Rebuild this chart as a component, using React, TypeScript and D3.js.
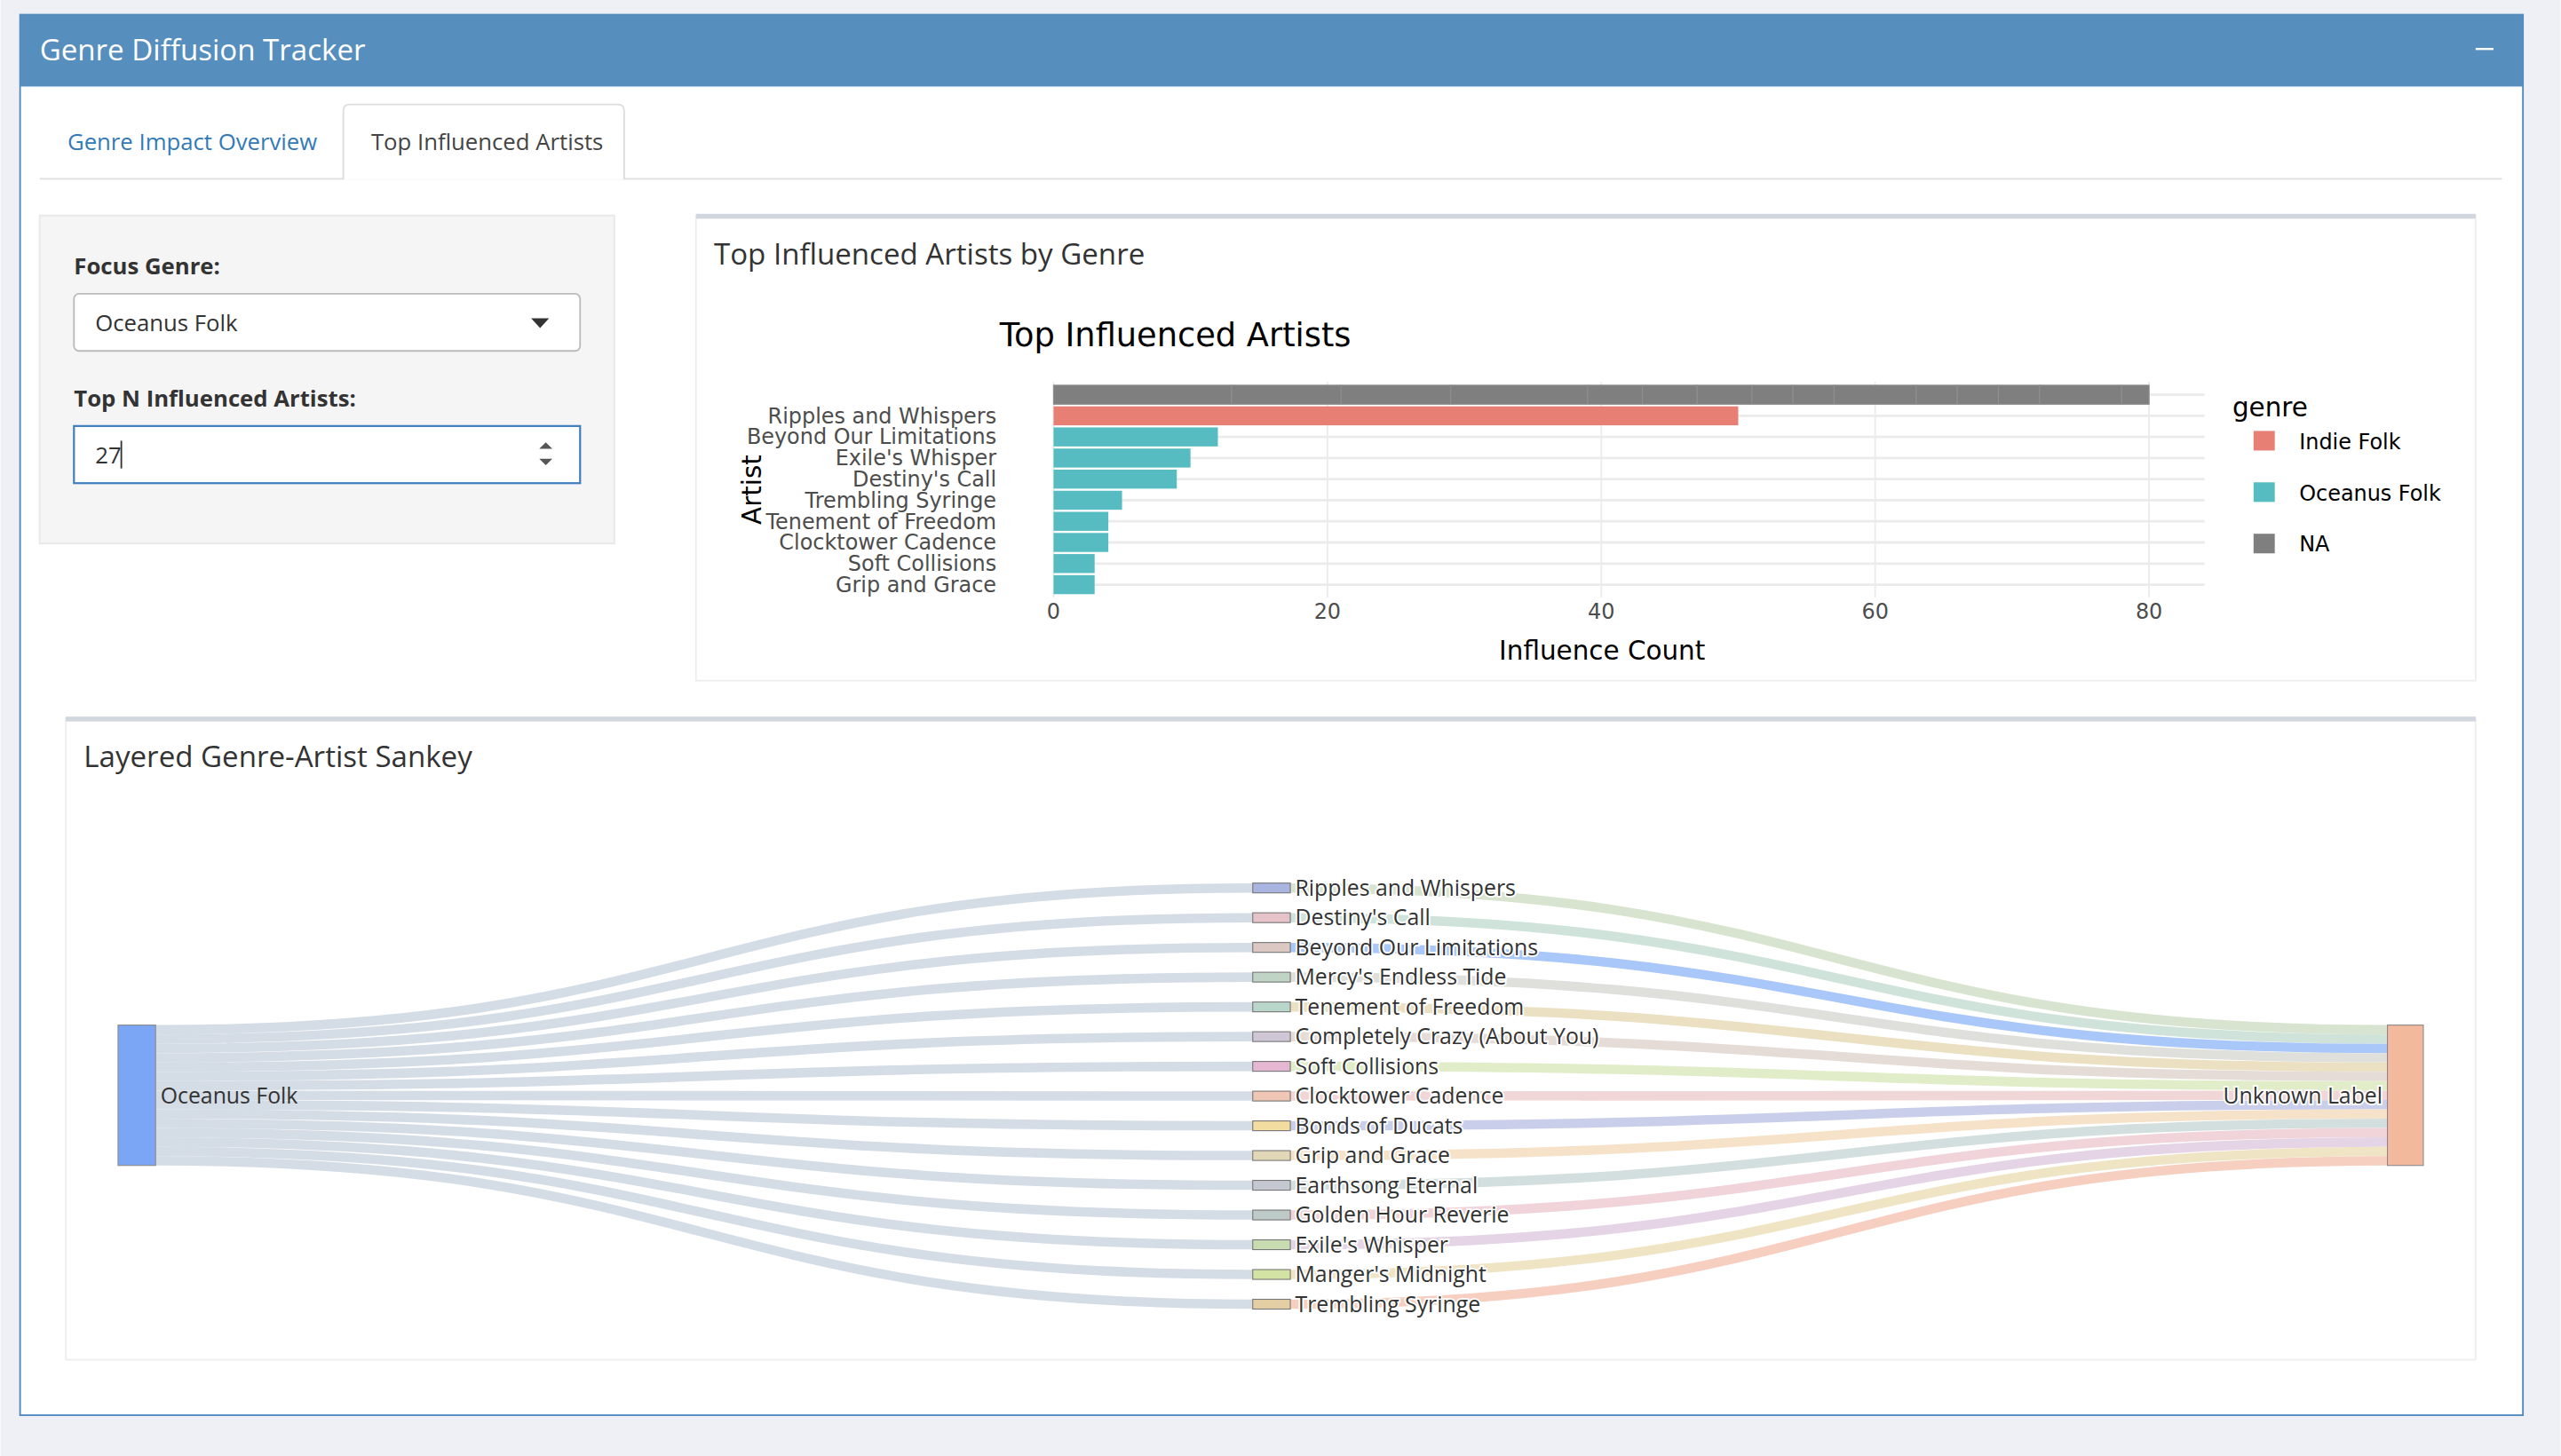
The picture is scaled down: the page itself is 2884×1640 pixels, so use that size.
import React from "react";
import * as d3 from "d3";

// bar chart data
const barArtists = ["NA", "Ripples and Whispers", "Beyond Our Limitations", "Exile's Whisper", "Destiny's Call", "Trembling Syringe", "Tenement of Freedom", "Clocktower Cadence", "Soft Collisions", "Grip and Grace"];
const barGenres = ["NA", "Indie Folk", "Oceanus Folk", "Oceanus Folk", "Oceanus Folk", "Oceanus Folk", "Oceanus Folk", "Oceanus Folk", "Oceanus Folk", "Oceanus Folk"];
const barCounts = [80, 50, 12, 10, 9, 5, 4, 4, 3, 3];
const naSegments = [13, 8, 8, 10, 4, 4, 4, 3, 3, 6, 3, 3, 3, 6, 2];
const xTicks = [0, 20, 40, 60, 80];
const legendGenres = ["Indie Folk", "Oceanus Folk", "NA"];
const genreColors: Record<string, string> = { "Indie Folk": "#e87f74", "Oceanus Folk": "#57bcc2", NA: "#7f7f7f" };

// sankey data
const sankeyArtists = ["Ripples and Whispers", "Destiny's Call", "Beyond Our Limitations", "Mercy's Endless Tide", "Tenement of Freedom", "Completely Crazy (About You)", "Soft Collisions", "Clocktower Cadence", "Bonds of Ducats", "Grip and Grace", "Earthsong Eternal", "Golden Hour Reverie", "Exile's Whisper", "Manger's Midnight", "Trembling Syringe"];
const nodeColors = ["#aab4e0", "#e6c3c9", "#dcc8c3", "#bfd4c5", "#b9d6cb", "#cfc6d6", "#e6b7d3", "#efc7b4", "#f3dca0", "#e2d8b8", "#c5c8d1", "#bdcac8", "#c7dcb0", "#d3e3a3", "#e3cfa3"];
const outLinkColors = ["#d8e4cf", "#cfe3da", "#a9c7f9", "#dfdfdb", "#ece0c3", "#e5dcd7", "#e0edc8", "#f1d6d8", "#c9cfea", "#f6e2c8", "#d3dfdf", "#f0d4da", "#e5d4e6", "#efe4c4", "#f6cfc0"];

const UI = "'Open Sans', Lato, sans-serif";
const PLOT = "'DejaVu Sans', sans-serif";

function BarChart() {
  const x = d3.scaleLinear().domain([0, 80]).range([645, 1316]);
  const y = d3.scaleBand().domain(barArtists).range([236, 364]).paddingInner(0.1);
  let acc = 0;
  const segs = naSegments.map((v) => {
    const s = { x0: acc, x1: acc + v };
    acc += v;
    return s;
  });
  return (
    <g fontFamily={PLOT}>
      <text x={612} y={212} fontSize={20} fill="#000">Top Influenced Artists</text>
      {xTicks.map((t) => (
        <line key={t} x1={x(t)} x2={x(t)} y1={234} y2={366} stroke="#ebebeb" />
      ))}
      {barArtists.map((a) => (
        <line key={a} x1={645} x2={1350} y1={y(a)! + y.bandwidth() / 2} y2={y(a)! + y.bandwidth() / 2} stroke="#ebebeb" strokeWidth={1.5} />
      ))}
      {barArtists.map((a, i) => (
        <rect key={a} x={x(0)} y={y(a)} width={x(barCounts[i]) - x(0)} height={y.bandwidth()} fill={genreColors[barGenres[i]]} />
      ))}
      {segs.map((s, i) => (
        <rect key={i} x={x(s.x0)} y={y("NA")} width={x(s.x1) - x(s.x0)} height={y.bandwidth()} fill="#7f7f7f" stroke="#8f8f8f" strokeWidth={0.6} />
      ))}
      {barArtists.slice(1).map((a) => (
        <text key={a} x={610} y={y(a)! + y.bandwidth() / 2 + 4.5} fontSize={13} textAnchor="end" fill="#4d4d4d">{a}</text>
      ))}
      {xTicks.map((t) => (
        <text key={t} x={x(t)} y={379} fontSize={13} textAnchor="middle" fill="#4d4d4d">{t}</text>
      ))}
      <text x={981} y={404} fontSize={16} textAnchor="middle">Influence Count</text>
      <text transform="translate(466,300) rotate(-90)" fontSize={16} textAnchor="middle">Artist</text>
      <text x={1367} y={255} fontSize={16}>genre</text>
      {legendGenres.map((g, i) => (
        <g key={g}>
          <rect x={1380} y={264 + i * 31.5} width={13} height={12} fill={genreColors[g]} />
          <text x={1408} y={275 + i * 31.5} fontSize={13}>{g}</text>
        </g>
      ))}
    </g>
  );
}

function Sankey() {
  const n = sankeyArtists.length;
  const midY = d3.scalePoint().domain(sankeyArtists).range([544, 799]);
  const stack = d3.scaleLinear().domain([0, n]).range([628, 714]);
  const link = d3.linkHorizontal<any, [number, number]>().source((d) => d.s).target((d) => d.t);
  const lw = stack(1) - stack(0);
  return (
    <g fontFamily={UI}>
      {sankeyArtists.map((a, i) => (
        <path key={"l" + a} d={link({ s: [95, stack(i) + lw / 2], t: [767, midY(a)!] })!} fill="none" stroke="#cdd6e0" strokeOpacity={0.85} strokeWidth={lw} />
      ))}
      {sankeyArtists.map((a, i) => (
        <path key={"r" + a} d={link({ s: [790, midY(a)!], t: [1462, stack(i) + lw / 2] })!} fill="none" stroke={outLinkColors[i]} strokeWidth={lw} />
      ))}
      <rect x={72} y={628} width={23} height={86} fill="#7aa6f5" stroke="#8a8a8a" strokeWidth={0.6} />
      <text x={98} y={676} fontSize={13.5} fill="#333">Oceanus Folk</text>
      {sankeyArtists.map((a, i) => (
        <g key={"n" + a}>
          <rect x={767} y={midY(a)! - 3} width={23} height={6} fill={nodeColors[i]} stroke="#777" strokeWidth={0.6} />
          <text x={793} y={midY(a)! + 4.8} fontSize={13.5} fill="#333" stroke="#fff" strokeWidth={2} paintOrder="stroke">{a}</text>
        </g>
      ))}
      <rect x={1462} y={628} width={22} height={86} fill="#f3b99d" stroke="#8a8a8a" strokeWidth={0.6} />
      <text x={1459} y={676} fontSize={13.5} fill="#333" textAnchor="end" stroke="#fff" strokeWidth={2} paintOrder="stroke">Unknown Label</text>
    </g>
  );
}

export default function App() {
  return (
    <svg width={2884} height={1640} viewBox="0 0 1568 892" style={{ position: "absolute", left: 0, top: 0 }} fontFamily={UI}>
      <rect width={1568} height={892} fill="#eef0f6" />
      <rect x={12} y={9} width={1533} height={858} fill="#fff" stroke="#4f88bd" />
      <rect x={12} y={9} width={1533} height={44} fill="#568ebe" />
      <text x={24} y={37} fontSize={18} fill="#fff">Genre Diffusion Tracker</text>
      <line x1={1516} x2={1527} y1={30} y2={30} stroke="#fff" strokeWidth={1.3} />
      {/* tabs */}
      <line x1={24} x2={1532} y1={109.5} y2={109.5} stroke="#ddd" />
      <text x={41} y={92} fontSize={14} fill="#337ab7">Genre Impact Overview</text>
      <path d="M210,110 V68 Q210,64 214,64 H378 Q382,64 382,68 V110" fill="#fff" stroke="#ddd" />
      <text x={227} y={92} fontSize={14} fill="#444">Top Influenced Artists</text>
      {/* sidebar */}
      <rect x={24} y={132} width={352} height={201} fill="#f5f5f5" stroke="#e8e8e8" />
      <text x={45} y={168} fontSize={14} fontWeight="bold" fill="#333">Focus Genre:</text>
      <rect x={45} y={180} width={310} height={35} rx={3} fill="#fff" stroke="#bbb" />
      <text x={58} y={203} fontSize={14} fill="#333">Oceanus Folk</text>
      <path d="M325,195 L336,195 L330.5,201 Z" fill="#333" />
      <text x={45} y={249} fontSize={14} fontWeight="bold" fill="#333">Top N Influenced Artists:</text>
      <rect x={45} y={261} width={310} height={35} fill="#fff" stroke="#3f7fbf" strokeWidth={1.2} />
      <text x={58} y={284} fontSize={14} fill="#333">27</text>
      <line x1={74} x2={74} y1={270} y2={287} stroke="#333" />
      <path d="M330,275 L338,275 L334,271 Z M330,281 L338,281 L334,285 Z" fill="#555" />
      {/* box 1 */}
      <rect x={426} y={132} width={1090} height={285} fill="#fff" stroke="#eee" />
      <rect x={426} y={131} width={1090} height={3} fill="#d2d6de" />
      <text x={437} y={162} fontSize={18} fill="#333">Top Influenced Artists by Genre</text>
      <BarChart />
      {/* box 2 */}
      <rect x={40} y={440} width={1476} height={393} fill="#fff" stroke="#eee" />
      <rect x={40} y={439} width={1476} height={3} fill="#d2d6de" />
      <text x={51} y={470} fontSize={18} fill="#333">Layered Genre-Artist Sankey</text>
      <Sankey />
    </svg>
  );
}
